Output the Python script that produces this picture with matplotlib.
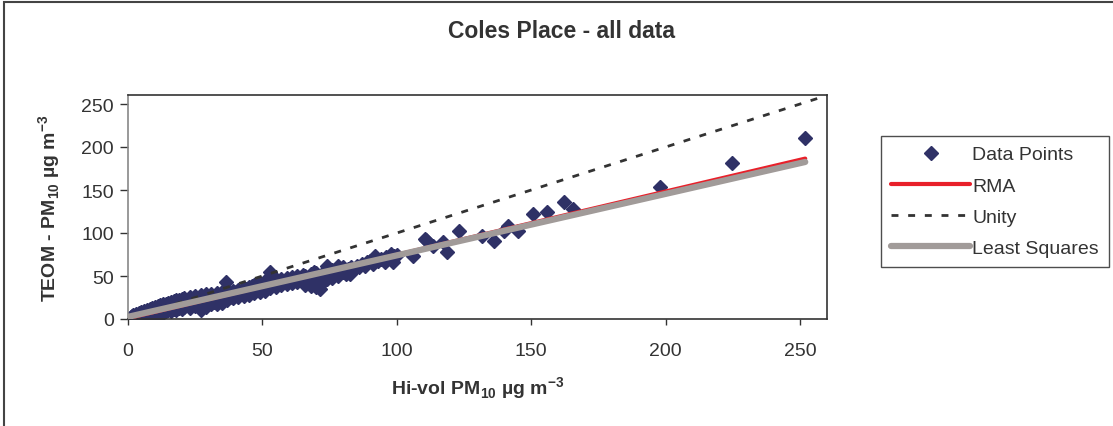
import matplotlib.pyplot as plt
from matplotlib.patches import Rectangle

# Hi-vol PM10 (x) vs TEOM PM10 (y)
hivol = [1, 1.5, 2, 2, 2.5, 3, 3, 3.5, 4, 4, 4.5, 5, 5, 5.5, 6, 6, 6.5, 7, 7, 7.5,
         8, 8, 8.5, 9, 9, 9.5, 10, 10, 10.5, 11, 11, 11.5, 12, 12, 12.5, 13, 13, 13.5,
         14, 14, 14.5, 15, 15, 15.5, 16, 16, 16.5, 17, 17, 17.5, 18, 18, 18.5, 19, 19,
         19.5, 20, 20, 20.5,
         21, 21, 22, 22, 23, 23, 24, 24, 25, 25, 26, 26, 27, 27, 28, 28, 29, 29, 30, 30,
         31, 31, 32, 32, 33, 33, 34, 34, 35, 35, 36, 36.5, 37, 37, 38, 38, 39, 39, 40, 40,
         41, 41, 42, 42, 43, 43, 44, 44, 45, 45, 46, 46, 47, 47, 48, 48, 49, 49, 50, 50,
         51, 51, 52, 53, 53, 54, 54, 55, 55, 56, 57, 57, 58, 59, 59, 60, 61, 61, 62, 63,
         63, 64, 65, 65,
         66, 66, 67, 68, 68, 69, 69, 70, 70, 71, 71.5, 72, 72, 73, 74, 74, 75, 76, 76, 77,
         78, 78, 79, 80, 80, 81, 82, 82.6, 83, 84, 85, 86, 87, 88, 89, 90, 91, 92, 93, 94,
         95.6, 96, 98, 98.6, 99, 100,
         106, 110.5, 111, 113.6, 117, 118.6, 123, 131.6, 136, 140, 141.5, 145, 150.7, 156,
         162, 165.6, 198, 224.6, 251.9]
teom = [2, 4, 1, 5, 3, 6, 2, 4, 7, 1, 5, 3, 8, 6, 2, 9, 5, 4, 10, 7,
        3, 12, 8, 5, 13, 9, 6, 14, 10, 4, 15, 11, 8, 16, 12, 7, 17, 13,
        9, 18, 12, 10, 19, 15, 9, 20, 14, 12, 21, 16, 11, 22, 17, 13, 22,
        18, 12, 23, 17,
        14, 25, 18, 22, 13, 26, 17, 21, 15, 27, 19, 24, 11, 28, 20, 25, 14, 29, 22, 26,
        18, 29, 24, 20, 17, 30, 25, 21, 19, 31, 27, 43, 22, 32, 26, 30, 24, 33, 28, 31,
        26, 34, 29, 33, 27, 36, 31, 35, 28, 37, 33, 38, 30, 39, 35, 40, 31, 42, 36, 41,
        33, 44, 38, 55, 36, 40, 45, 37, 46, 42, 39, 47, 44, 41, 48, 45, 42, 49, 46, 43,
        50, 47, 44, 51,
        50, 40, 48, 38, 52, 47, 55, 37, 53, 44, 35, 50, 42, 55, 62, 46, 52, 48, 57, 54,
        62, 50, 57, 55, 60, 52, 58, 52, 60, 58, 62, 60, 64, 62, 66, 68, 64, 73, 68, 70,
        66, 72, 75.6, 66, 73, 74,
        73.6, 93, 92, 85, 89.5, 78, 102.7, 96.9, 91, 102.7, 108.5, 102.7, 122, 124,
        136, 128, 154, 181, 210]

# fitted lines (start, end)
fit_x = [0, 251.9]
rma_y = [1.0, 186.5]
ls_y = [2.5, 182.6]
unity_x = [0, 260]
unity_y = [0, 260]

W, H = 1113, 427
fig = plt.figure(figsize=(W / 100, H / 100), dpi=100)
plt.rcParams['font.family'] = ['Liberation Sans', 'DejaVu Sans']
plt.rcParams['mathtext.fontset'] = 'custom'
plt.rcParams['mathtext.rm'] = 'Liberation Sans'
plt.rcParams['mathtext.bf'] = 'Liberation Sans:bold'

ax = fig.add_axes([128 / W, 1 - 320 / H, (827 - 128) / W, (320 - 96.4) / H])

ax.plot(hivol, teom, ls='none', marker='D', ms=7, color='#2f3166', label='Data Points',
        zorder=2)
ax.plot(fit_x, rma_y, color='#e8202a', lw=3, label='RMA', zorder=3, solid_capstyle='round')
ax.plot(unity_x, unity_y, color='#333333', lw=2, ls=(0, (2.5, 3.5)), label='Unity', zorder=3)
ax.plot(fit_x, ls_y, color='#a19b99', lw=4.5, label='Least Squares', zorder=4,
        solid_capstyle='round')

ax.set_xlim(0, 260)
ax.set_ylim(0, 260)
ax.set_xticks([0, 50, 100, 150, 200, 250])
ax.set_yticks([0, 50, 100, 150, 200, 250])
ax.tick_params(labelsize=14, colors='#333333', width=1)
ax.tick_params(axis='x', length=4.5, pad=12)
ax.tick_params(axis='y', length=6, pad=4)
for side in ['top', 'right', 'bottom']:
    ax.spines[side].set_color('#333333')
ax.spines['left'].set_color('#888888')
for sp in ax.spines.values():
    sp.set_linewidth(1.2)

fig.text(562 / W, 1 - 32 / H, 'Coles Place - all data', fontsize=16.5, fontweight='bold',
         color='#333333', ha='center', va='center')
ax.set_xlabel(r'Hi-vol PM$_\mathbf{10}$ µg m$^\mathbf{-3}$', fontsize=14,
              fontweight='bold', color='#333333', labelpad=11)
ax.set_ylabel(r'TEOM - PM$_\mathbf{10}$ µg m$^\mathbf{-3}$', fontsize=14,
              fontweight='bold', color='#333333', labelpad=13)

leg = fig.legend(loc='upper left', bbox_to_anchor=(881 / W, 1 - 137 / H), fontsize=14,
                 frameon=True, fancybox=False, edgecolor='#222222', handlelength=4.1,
                 handletextpad=0.1, labelspacing=0.7, borderpad=0.5, borderaxespad=0,
                 markerscale=1)
leg.get_frame().set_linewidth(1)
for t in leg.get_texts():
    t.set_color('#333333')

fig.add_artist(Rectangle((4 / W, -0.1), 1.2, 1.1 - 3 / H, transform=fig.transFigure,
                         fill=False, ec='#444444', lw=1.5))

fig.savefig('out.png', dpi=100)
